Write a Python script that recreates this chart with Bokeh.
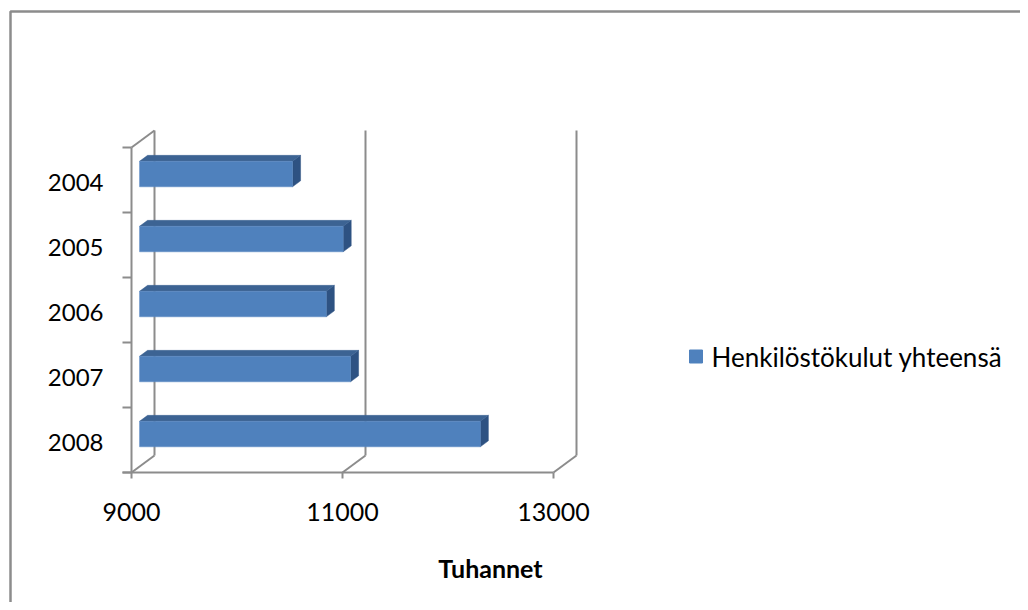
from bokeh.plotting import figure
from bokeh.models import Range1d, ColumnDataSource
from bokeh.core.properties import value
from bokeh.embed import file_html
from bokeh.resources import INLINE

# ---- data ----
years = ["2004", "2005", "2006", "2007", "2008"]
costs = [10450, 10930, 10770, 11000, 12230]
x_ticks = [9000, 11000, 13000]
x_tick_labels = ["9000", "11000", "13000"]
axis_title = "Tuhannet"
series_name = "Henkilöstökulut yhteensä"

# ---- geometry (screen mapping helpers) ----
X0, X1 = 9000, 13000
FRONT_L, FRONT_R = 131, 553          # screen px of 9000 / 13000 on front plane
FLOOR_Y, BAND = 472, 65              # screen px of floor front, px per category
PPV = (FRONT_R - FRONT_L) / (X1 - X0)
W, H = 1020, 602
OFF = 0

def vx(px):
    return X0 + (px - FRONT_L) / PPV

def vy(py):
    return (FLOOR_Y - py) / BAND

DEPTH_DX = 23 / PPV      # back wall offset in value units
DEPTH_DY = 17 / BAND     # back wall offset in category units

n = len(years)
FRONT = "#4F81BD"
TOP = "#3C6393"
SIDE = "#2E5282"
GRID = "#8C8C8C"
FONT = "Lato"

p = figure(width=W, height=H, output_backend="svg", toolbar_location=None,
           x_range=Range1d(vx(OFF), vx(OFF + W)), y_range=Range1d(vy(OFF + H), vy(OFF)),
           x_axis_type=None, y_axis_type=None, min_border=0)
p.outline_line_color = None
p.grid.visible = False
p.background_fill_color = "white"
p.border_fill_color = "white"

# outer chart border (top and left visible)
p.line(x=[vx(10), vx(10), vx(1040)], y=[vy(640), vy(11), vy(11)],
       line_color="#8C8C8C", line_width=2.5)

# ---- walls / grid ----
ymax = n
for t in x_ticks:
    p.line(x=[t + DEPTH_DX, t + DEPTH_DX], y=[DEPTH_DY, ymax + DEPTH_DY],
           line_color=GRID, line_width=2)
    p.line(x=[t, t + DEPTH_DX], y=[0, DEPTH_DY], line_color=GRID, line_width=2)
    p.line(x=[t, t], y=[0, -6 / BAND], line_color=GRID, line_width=2)

p.line(x=[X0, X0], y=[0, ymax], line_color=GRID, line_width=2)
p.line(x=[X0, X0 + DEPTH_DX], y=[ymax, ymax + DEPTH_DY], line_color=GRID, line_width=2)
tick_len = 9 / PPV
p.line(x=[X0 - tick_len, X1], y=[0, 0], line_color=GRID, line_width=2)
for k in range(n + 1):
    p.line(x=[X0 - tick_len, X0], y=[k, k], line_color=GRID, line_width=2)

# ---- 3D bars ----
f_front, f_back = 0.35, 0.70
half = 0.196
dxf, dyf = f_front * DEPTH_DX, f_front * DEPTH_DY
ddx, ddy = (f_back - f_front) * DEPTH_DX, (f_back - f_front) * DEPTH_DY

centers = [(n - 1 - i) + 0.5 for i in range(n)]
left = [X0 + dxf] * n
right = [v + dxf for v in costs]
bottom = [c + dyf - half for c in centers]
top = [c + dyf + half for c in centers]

top_xs = [[l, r, r + ddx, l + ddx] for l, r in zip(left, right)]
top_ys = [[t, t, t + ddy, t + ddy] for t in top]
side_xs = [[r, r, r + ddx, r + ddx] for r in right]
side_ys = [[b, t, t + ddy, b + ddy] for b, t in zip(bottom, top)]

p.patches(xs=side_xs, ys=side_ys, fill_color=SIDE, line_color=SIDE, line_width=0.5)
p.patches(xs=top_xs, ys=top_ys, fill_color=TOP, line_color=TOP, line_width=0.5)
p.quad(left=left, right=right, bottom=bottom, top=top,
       fill_color=FRONT, line_color="#5A8AC4", line_width=0.5)

# ---- labels ----
ysrc = ColumnDataSource(dict(x=[X0] * n, y=centers, t=years))
p.text(x="x", y="y", text="t", source=ysrc, x_offset=-28, y_offset=2,
       text_align="right", text_baseline="middle", text_font=value(FONT),
       text_font_size="24px", text_color="#000000")

xsrc = ColumnDataSource(dict(x=x_ticks, y=[0] * len(x_ticks), t=x_tick_labels))
p.text(x="x", y="y", text="t", source=xsrc, y_offset=39,
       text_align="center", text_baseline="middle", text_font=value(FONT),
       text_font_size="25px", text_color="#000000")

p.text(x=[vx(490)], y=[vy(567)], text=[axis_title], text_align="center",
       text_baseline="middle", text_font=value(FONT), text_font_style="bold",
       text_font_size="25px", text_color="#000000")

# legend
p.scatter(x=[vx(695.5)], y=[vy(356)], marker="square", size=13,
          fill_color=FRONT, line_color=FRONT)
p.text(x=[vx(711)], y=[vy(356)], text=[series_name], text_align="left",
       text_baseline="middle", text_font=value(FONT), text_font_size="26px",
       text_color="#000000")

open("out.html", "w").write(file_html(p, INLINE))
